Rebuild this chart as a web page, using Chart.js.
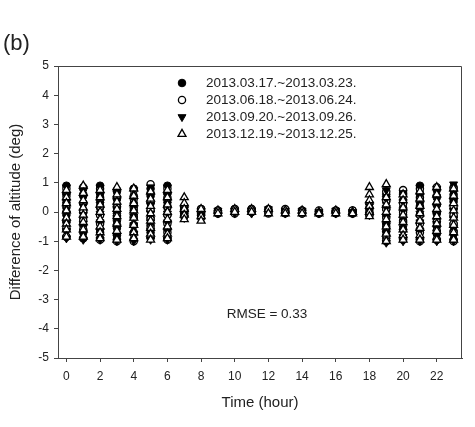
<!DOCTYPE html>
<html>
<head>
<meta charset="utf-8">
<script src="https://cdn.jsdelivr.net/npm/chart.js@4"></script>
<style>
  html, body { margin: 0; padding: 0; background: #fff; }
  #wrap { width: 475px; height: 427px; position: relative; }
</style>
</head>
<body>
<div id="wrap"><canvas id="ScatterChart"></canvas></div>
<script>
const hours = [0,1,2,3,4,5,6,7,8,9,10,11,12,13,14,15,16,17,18,19,20,21,22,23];
const xTicks = [0,2,4,6,8,10,12,14,16,18,20,22];
const seriesLabels = ["2013.03.17.~2013.03.23.", "2013.06.18.~2013.06.24.", "2013.09.20.~2013.09.26.", "2013.12.19.~2013.12.25."];
const rmseText = "RMSE = 0.33";

// one list of altitude differences per hour, per period
const marData = [
  [0.9, 0.65, 0.4, 0.15, -0.1, -0.35, -0.6, -0.85],
  [0.8, 0.55, 0.3, 0.05, -0.2, -0.45, -0.7, -0.9],
  [0.9, 0.65, 0.4, 0.15, -0.1, -0.35, -0.6, -0.9],
  [0.7, 0.45, 0.2, -0.05, -0.3, -0.55, -0.8, -0.95],
  [0.8, 0.55, 0.3, 0.05, -0.2, -0.45, -0.7, -0.95],
  [0.8, 0.55, 0.3, 0.05, -0.2, -0.45, -0.7, -0.9],
  [0.9, 0.65, 0.4, 0.15, -0.1, -0.35, -0.6, -0.9],
  [0.15, 0.05, -0.05, -0.15],
  [0.1, 0.0, -0.1],
  [0.05, -0.05],
  [0.1, 0.0],
  [0.1, 0.0],
  [0.1, 0.0],
  [0.05, -0.05],
  [0.05, -0.05],
  [0.0, -0.05],
  [0.05, -0.05],
  [0.05, -0.05],
  [0.15, 0.0, -0.1],
  [0.6, 0.35, 0.1, -0.15, -0.4, -0.65, -0.9],
  [0.65, 0.4, 0.15, -0.1, -0.35, -0.6, -0.85],
  [0.9, 0.65, 0.4, 0.15, -0.1, -0.35, -0.6, -0.95],
  [0.75, 0.5, 0.25, 0.0, -0.25, -0.5, -0.75, -0.95],
  [0.85, 0.6, 0.35, 0.1, -0.15, -0.4, -0.65, -0.95]
];
const junData = [
  [0.8, 0.55, 0.25, 0.0, -0.3, -0.55, -0.85],
  [0.85, 0.6, 0.3, 0.0, -0.3, -0.6, -0.9],
  [0.8, 0.5, 0.2, -0.1, -0.4, -0.7, -0.95],
  [0.75, 0.45, 0.15, -0.15, -0.45, -0.75, -1.0],
  [0.75, 0.45, 0.15, -0.15, -0.45, -0.75, -1.0],
  [0.95, 0.65, 0.35, 0.05, -0.25, -0.55, -0.85],
  [0.8, 0.5, 0.2, -0.1, -0.4, -0.7, -0.95],
  [0.2, 0.05, -0.1],
  [0.1, -0.05, -0.2],
  [0.05, -0.05],
  [0.1, -0.05],
  [0.1, 0.0],
  [0.05, -0.05],
  [0.1, 0.0],
  [0.05, -0.05],
  [0.05, -0.05],
  [0.05, 0.0],
  [0.05, -0.05],
  [0.3, 0.1, -0.1],
  [0.7, 0.4, 0.1, -0.2, -0.5, -0.8, -1.0],
  [0.75, 0.6, 0.3, 0.0, -0.3, -0.6, -0.95],
  [0.8, 0.5, 0.2, -0.1, -0.4, -0.7, -1.0],
  [0.85, 0.55, 0.25, -0.05, -0.35, -0.65, -0.95],
  [0.8, 0.5, 0.2, -0.1, -0.4, -0.7, -1.0]
];
const sepData = [
  [0.85, 0.55, 0.25, -0.05, -0.35, -0.65, -0.9],
  [0.8, 0.5, 0.2, -0.1, -0.4, -0.7, -0.95],
  [0.85, 0.55, 0.25, -0.05, -0.35, -0.65, -0.95],
  [0.7, 0.4, 0.1, -0.2, -0.5, -0.8, -1.0],
  [0.75, 0.45, 0.15, -0.15, -0.45, -0.75, -1.0],
  [0.85, 0.55, 0.25, -0.05, -0.35, -0.65, -0.95],
  [0.85, 0.55, 0.25, -0.05, -0.35, -0.65, -0.95],
  [0.1, 0.0, -0.1, -0.2],
  [0.05, -0.1, -0.2],
  [0.05, -0.05],
  [0.05, -0.05],
  [0.05, -0.05],
  [0.1, 0.0],
  [0.05, -0.05],
  [0.05, 0.0],
  [0.0, -0.05],
  [0.05, -0.05],
  [0.0, -0.05],
  [0.2, 0.05, -0.1],
  [0.75, 0.45, 0.15, -0.15, -0.45, -0.75, -1.05],
  [0.65, 0.35, 0.05, -0.25, -0.55, -0.85, -1.0],
  [0.85, 0.55, 0.25, -0.05, -0.35, -0.65, -1.0],
  [0.8, 0.5, 0.2, -0.1, -0.4, -0.7, -1.0],
  [0.95, 0.65, 0.35, 0.05, -0.25, -0.55, -0.85, -1.0]
];
const decData = [
  [0.75, 0.5, 0.3, 0.05, -0.2, -0.4, -0.6, -0.85],
  [0.9, 0.65, 0.4, 0.15, -0.1, -0.35, -0.6, -0.85],
  [0.75, 0.5, 0.25, 0.0, -0.25, -0.5, -0.7, -0.9],
  [0.85, 0.6, 0.35, 0.1, -0.15, -0.4, -0.65, -0.95],
  [0.8, 0.55, 0.3, 0.05, -0.2, -0.45, -0.7, -0.9],
  [0.7, 0.45, 0.2, -0.05, -0.3, -0.55, -0.75, -0.95],
  [0.75, 0.5, 0.25, 0.0, -0.25, -0.5, -0.75, -0.9],
  [0.5, 0.3, 0.1, -0.1, -0.25],
  [0.1, -0.15, -0.3],
  [0.05, -0.05],
  [0.1, 0.0],
  [0.1, 0.0],
  [0.1, -0.05],
  [0.05, -0.05],
  [0.05, -0.05],
  [0.0, -0.05],
  [0.05, -0.05],
  [0.0, -0.05],
  [0.85, 0.6, 0.4, 0.2, 0.0, -0.15],
  [0.95, 0.5, 0.25, 0.0, -0.25, -0.5, -0.75, -1.0],
  [0.6, 0.4, 0.15, -0.1, -0.35, -0.6, -0.8, -0.95],
  [0.7, 0.45, 0.2, -0.05, -0.3, -0.55, -0.8, -0.95],
  [0.85, 0.6, 0.35, 0.1, -0.15, -0.4, -0.65, -0.95],
  [0.8, 0.55, 0.3, 0.05, -0.2, -0.45, -0.7, -0.95]
];

function toPoints(perHour) {
  const pts = [];
  hours.forEach((h, i) => perHour[i].forEach(v => pts.push({ x: h, y: v })));
  return pts;
}

const textColor = "#222";
const lineColor = "#444";

// box top/right, legend in the plot, panel label and RMSE note
const extras = {
  id: "extras",
  afterDraw(chart) {
    const ctx = chart.ctx;
    const a = chart.chartArea;
    ctx.save();
    ctx.strokeStyle = lineColor;
    ctx.lineWidth = 1;
    ctx.beginPath();
    ctx.moveTo(a.left, a.top + 0.5);
    ctx.lineTo(a.right - 0.5, a.top + 0.5);
    ctx.lineTo(a.right - 0.5, a.bottom);
    ctx.stroke();

    ctx.fillStyle = textColor;
    ctx.font = "13.5px 'Liberation Sans', Arial, sans-serif";
    ctx.textBaseline = "middle";
    ctx.textAlign = "left";
    chart.data.datasets.forEach((ds, i) => {
      const y = 83 + i * 17;
      ctx.fillStyle = ds.backgroundColor;
      ctx.strokeStyle = ds.borderColor;
      ctx.lineWidth = ds.borderWidth;
      Chart.helpers.drawPoint(ctx, {
        pointStyle: ds.pointStyle,
        rotation: ds.rotation || 0,
        radius: ds.pointRadius,
        borderWidth: ds.borderWidth
      }, 182, y);
      ctx.fillStyle = textColor;
      ctx.fillText(ds.label, 206, y + 0.5);
    });

    ctx.textAlign = "center";
    ctx.fillText(rmseText, 267, 314);

    ctx.textAlign = "left";
    ctx.font = "22px 'Liberation Sans', Arial, sans-serif";
    ctx.fillText("(b)", 3, 44);
    ctx.restore();
  }
};

const ctx = document.getElementById("ScatterChart").getContext("2d");
const ScatterChart = new Chart(ctx, {
  type: "scatter",
  data: {
    datasets: [
      { label: seriesLabels[0], data: toPoints(marData), pointStyle: "circle", pointRadius: 3.8,
        backgroundColor: "#000", borderColor: "#000", borderWidth: 1, order: 4 },
      { label: seriesLabels[1], data: toPoints(junData), pointStyle: "circle", pointRadius: 3.6,
        backgroundColor: "#fff", borderColor: "#000", borderWidth: 1.3, order: 3 },
      { label: seriesLabels[2], data: toPoints(sepData), pointStyle: "triangle", rotation: 180, pointRadius: 4.6,
        backgroundColor: "#000", borderColor: "#000", borderWidth: 1, order: 2 },
      { label: seriesLabels[3], data: toPoints(decData), pointStyle: "triangle", pointRadius: 4.6,
        backgroundColor: "#fff", borderColor: "#000", borderWidth: 1.3, order: 1 }
    ]
  },
  options: {
    responsive: true,
    maintainAspectRatio: false,
    animation: false,
    layout: { padding: { top: 66, right: 13, left: 0, bottom: 0 } },
    plugins: { legend: { display: false }, tooltip: { enabled: false } },
    scales: {
      x: {
        type: "linear",
        min: -0.5,
        max: 23.5,
        afterBuildTicks: (scale) => { scale.ticks = xTicks.map(v => ({ value: v })); },
        afterFit: (scale) => { scale.height = 69; },
        grid: { drawOnChartArea: false, drawTicks: true, tickLength: 4, color: lineColor },
        border: { display: true, color: lineColor, width: 1 },
        ticks: { color: textColor, padding: 7, font: { size: 12, family: "'Liberation Sans', Arial, sans-serif" } },
        title: { display: true, text: "Time (hour)", color: textColor,
          font: { size: 15, family: "'Liberation Sans', Arial, sans-serif" }, padding: { top: 0, bottom: 15 } }
      },
      y: {
        min: -5,
        max: 5,
        ticks: { stepSize: 1, color: textColor, padding: 5, font: { size: 12, family: "'Liberation Sans', Arial, sans-serif" } },
        afterFit: (scale) => { scale.width = 58; },
        grid: { drawOnChartArea: false, drawTicks: true, tickLength: 4, color: lineColor },
        border: { display: true, color: lineColor, width: 1 },
        title: { display: true, text: "Difference of altitude (deg)", color: textColor,
          font: { size: 15, family: "'Liberation Sans', Arial, sans-serif" }, padding: { top: 7, bottom: 0 } }
      }
    }
  },
  plugins: [extras]
});
</script>
</body>
</html>
